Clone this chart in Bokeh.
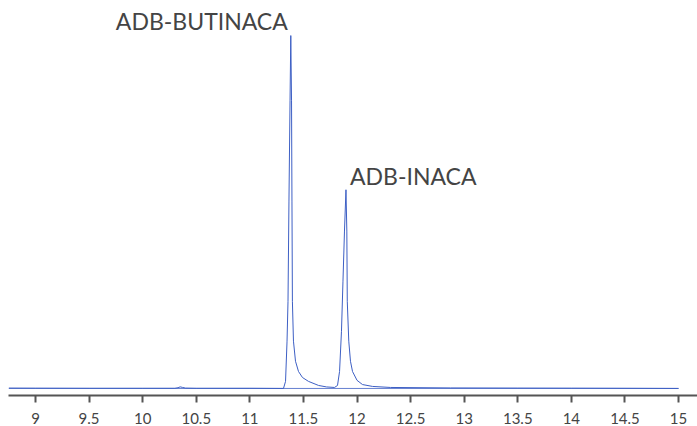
from bokeh.plotting import figure
from bokeh.models import Range1d, FixedTicker, ColumnDataSource
from bokeh.embed import file_html
from bokeh.resources import INLINE
from bokeh.core.properties import value

# Chromatogram trace (retention time in min, relative intensity)
times = [8.75, 9.0, 9.5, 10.0, 10.30, 10.33, 10.35, 10.37, 10.40, 10.5, 11.0, 11.30,
         11.314, 11.333, 11.347, 11.356, 11.365, 11.375, 11.382, 11.389, 11.393, 11.397,
         11.407, 11.426, 11.454, 11.491, 11.547, 11.641, 11.715, 11.790,
         11.818, 11.837, 11.855, 11.869, 11.883, 11.897, 11.905, 11.909, 11.923, 11.939,
         11.958, 12.000, 12.051, 12.145, 12.313, 12.872, 13.5, 14.0, 14.5, 15.0]
intensity = [0.10, 0.08, 0.05, 0.05, 0.05, 0.20, 0.45, 0.30, 0.10, 0.05, 0.05, 0.0,
             0.0, 2.0, 13.4, 24.7, 53.1, 81.5, 100.0, 81.5, 53.1, 24.7,
             13.4, 7.7, 4.8, 3.1, 2.0, 0.85, 0.43, 0.28,
             0.85, 4.8, 16.2, 30.4, 44.6, 56.3, 44.6, 24.7, 13.4, 7.7,
             4.8, 2.3, 1.1, 0.57, 0.28, 0.14, 0.10, 0.08, 0.05, 0.0]

# Integration baseline
base_times = [8.75, 15.0]
base_intensity = [0.0, 0.0]

# Peak annotations
peak_names = ["ADB-BUTINACA", "ADB-INACA"]
peak_times = [11.382, 11.897]
peak_heights = [100.0, 56.3]

# X axis ticks
tick_values = [9, 9.5, 10, 10.5, 11, 11.5, 12, 12.5, 13, 13.5, 14, 14.5, 15]
tick_labels = ["9", "9.5", "10", "10.5", "11", "11.5", "12", "12.5", "13", "13.5", "14", "14.5", "15"]

p = figure(width=697, height=426, output_backend="svg", toolbar_location=None,
           x_range=Range1d(8.748, 15.177), y_range=Range1d(-2.0, 107.67),
           y_axis_location=None, min_border_left=8, min_border_right=0,
           min_border_top=8, min_border_bottom=0)
p.outline_line_color = None
p.grid.visible = False
p.background_fill_color = "white"

line_color = "#3d5fc4"
p.line(base_times, base_intensity, line_color=line_color, line_width=1, line_alpha=0.8)
p.line(times, intensity, line_color=line_color, line_width=1)

src_l = ColumnDataSource(dict(x=[peak_times[0]], y=[peak_heights[0]], t=[peak_names[0]]))
src_r = ColumnDataSource(dict(x=[peak_times[1]], y=[peak_heights[1]], t=[peak_names[1]]))
p.text(x="x", y="y", text="t", source=src_l, text_align="right", text_baseline="alphabetic",
       x_offset=-3, y_offset=-14.5, text_font=value("Lato"), text_font_size="23px", text_color="#444444")
p.text(x="x", y="y", text="t", source=src_r, text_align="left", text_baseline="alphabetic",
       x_offset=4, y_offset=-14, text_font=value("Lato"), text_font_size="23px", text_color="#444444")

ax = p.xaxis[0]
ax.ticker = FixedTicker(ticks=tick_values)
ax.major_label_overrides = {v: l for v, l in zip(tick_values, tick_labels)}
ax.axis_line_color = "#555555"
ax.axis_line_width = 2
ax.major_tick_line_color = "#555555"
ax.major_tick_line_width = 2
ax.major_tick_in = 0
ax.major_tick_out = 7
ax.minor_tick_line_color = None
ax.major_label_text_font = "Lato"
ax.major_label_text_font_size = "15px"
ax.major_label_text_color = "#444444"
ax.major_label_standoff = 10

html = file_html(p, INLINE)
html = html.replace("</head>", "<style>html,body{overflow:hidden;}</style></head>", 1)
open("out.html", "w").write(html)
